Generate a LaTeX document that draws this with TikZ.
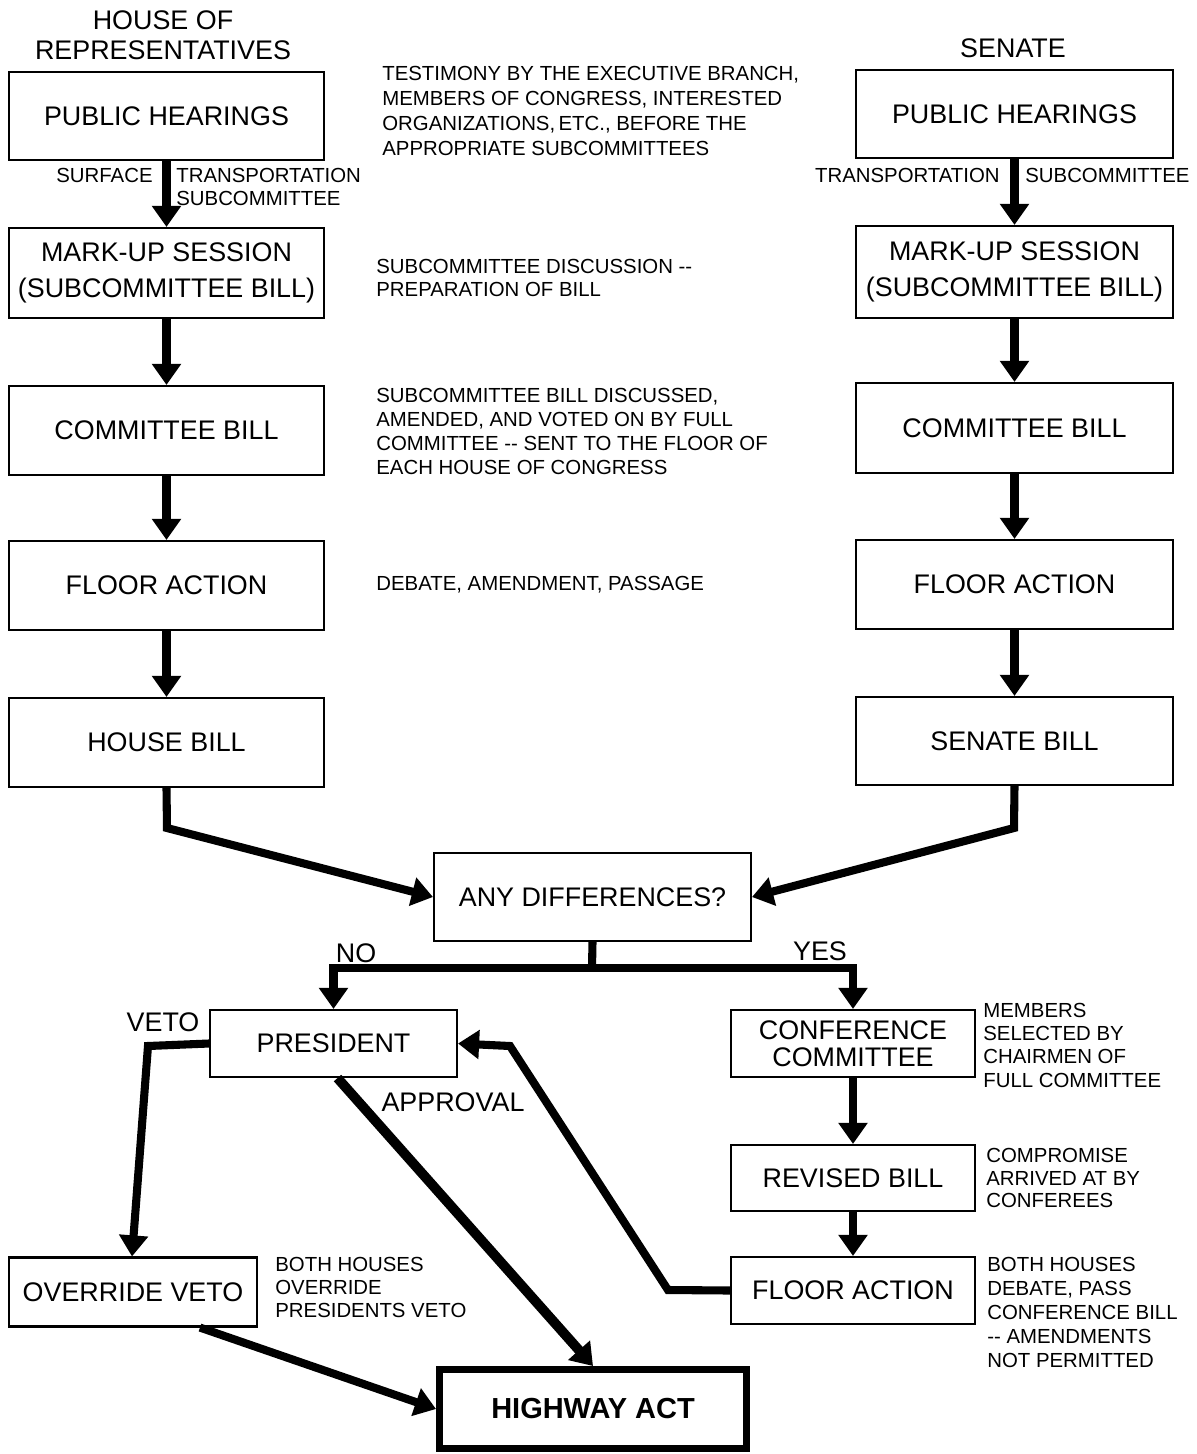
\documentclass[tikz,border=0pt]{standalone}
\usepackage{fontspec}
\setmainfont{Liberation Sans}
\usetikzlibrary{arrows.meta}
\begin{document}
\begin{tikzpicture}[x=0.02cm,y=-0.02cm,
  box/.style={draw, line width=1.2pt, inner sep=0pt, align=center, font=\fontsize{15.3}{20.4}\selectfont},
  lbox/.style={box, minimum width=6.3cm, minimum height=1.78cm},
  rbox/.style={box, minimum width=6.34cm, minimum height=1.78cm},
  note/.style={anchor=north west, inner sep=0pt, align=left, font=\fontsize{11.6}{13.5}\selectfont},
  lbl/.style={inner sep=0pt, font=\fontsize{11.6}{13}\selectfont},
  big/.style={inner sep=0pt, align=center, font=\fontsize{15.3}{17}\selectfont},
  flow/.style={line width=4.6pt, line join=miter, -{Triangle[width=16pt,length=12pt]}},
  link/.style={line width=4.6pt},
]
\useasboundingbox (0,0) rectangle (1197,1454);

% headers
\node[big] (hdrH) at (163,35) {HOUSE OF\\REPRESENTATIVES};
\node[big] (hdrS) at (1013,48) {SENATE};

% left column
\node[lbox, minimum height=1.76cm] (pubH) at (166.5,116) {PUBLIC HEARINGS};
\node[lbox, minimum height=1.8cm] (markH) at (166.5,273) {MARK-UP SESSION\\(SUBCOMMITTEE BILL)};
\node[lbox] (comH) at (166.5,430.5) {COMMITTEE BILL};
\node[lbox] (floorH) at (166.5,585.5) {FLOOR ACTION};
\node[lbox] (house) at (166.5,742.5) {HOUSE BILL};

% right column
\node[rbox, minimum height=1.76cm] (pubS) at (1014.5,114) {PUBLIC HEARINGS};
\node[rbox, minimum height=1.84cm] (markS) at (1014.5,272) {MARK-UP SESSION\\(SUBCOMMITTEE BILL)};
\node[rbox, minimum height=1.8cm] (comS) at (1014.5,428) {COMMITTEE BILL};
\node[rbox] (floorS) at (1014.5,584.5) {FLOOR ACTION};
\node[rbox, minimum height=1.76cm] (senate) at (1014.5,741) {SENATE BILL};

% middle / bottom
\node[box, minimum width=6.34cm, minimum height=1.76cm] (anyd) at (592.5,897) {ANY DIFFERENCES?};
\node[box, minimum width=4.94cm, minimum height=1.34cm] (pres) at (333.5,1043.5) {PRESIDENT};
\node[box, minimum width=4.88cm, minimum height=1.34cm, font=\fontsize{15.3}{15.6}\selectfont] (conf) at (853,1043.5) {CONFERENCE\\COMMITTEE};
\node[box, minimum width=4.88cm, minimum height=1.32cm] (rev) at (853,1178) {REVISED BILL};
\node[box, minimum width=4.88cm, minimum height=1.34cm] (floorC) at (853,1290.5) {FLOOR ACTION};
\node[box, minimum width=4.96cm, minimum height=1.38cm] (ovr) at (133,1292) {OVERRIDE VETO};
\node[draw, line width=4pt, inner sep=0pt, minimum width=6.14cm, minimum height=1.58cm, font=\fontsize{16.5}{18}\selectfont\bfseries] (hw) at (593,1409) {HIGHWAY ACT};

% annotations
\node[note, font=\fontsize{11.6}{14.3}\selectfont] (n1) at (382,66) {TESTIMONY BY THE EXECUTIVE BRANCH,\\MEMBERS OF CONGRESS, INTERESTED\\ORGANIZATIONS,\,ETC., BEFORE THE\\APPROPRIATE SUBCOMMITTEES};
\node[note, font=\fontsize{11.6}{13}\selectfont] (n2) at (376,259) {SUBCOMMITTEE DISCUSSION -{}-\\PREPARATION OF BILL};
\node[note, font=\fontsize{11.6}{13.6}\selectfont] (n3) at (376,388) {SUBCOMMITTEE BILL DISCUSSED,\\AMENDED, AND VOTED ON BY FULL\\COMMITTEE -{}- SENT TO THE FLOOR OF\\EACH HOUSE OF CONGRESS};
\node[note] (n4) at (376,576) {DEBATE, AMENDMENT, PASSAGE};
\node[note, font=\fontsize{11.6}{13.2}\selectfont] (n5) at (983,1003) {MEMBERS\\SELECTED BY\\CHAIRMEN OF\\FULL COMMITTEE};
\node[note, font=\fontsize{11.6}{12.8}\selectfont] (n6) at (986,1148) {COMPROMISE\\ARRIVED AT BY\\CONFEREES};
\node[note, font=\fontsize{11.6}{13.6}\selectfont] (n7) at (987,1257) {BOTH HOUSES\\DEBATE, PASS\\CONFERENCE BILL\\-{}- AMENDMENTS\\NOT PERMITTED};
\node[note, font=\fontsize{11.6}{13}\selectfont] (n8) at (275,1257) {BOTH HOUSES\\OVERRIDE\\PRESIDENTS VETO};

% connector labels
\node[lbl, anchor=east] (lsurf) at (153,175) {SURFACE};
\node[note, font=\fontsize{11.6}{13}\selectfont] (ltrans) at (176,168) {TRANSPORTATION\\SUBCOMMITTEE};
\node[lbl, anchor=east] (rtrans) at (1000,175) {TRANSPORTATION};
\node[lbl, anchor=west] (rsub) at (1025,175) {SUBCOMMITTEE};
\node[big] (lno) at (356,953) {NO};
\node[big] (lyes) at (820,951) {YES};
\node[big] (lveto) at (163,1022) {VETO};
\node[big] (lappr) at (453,1102) {APPROVAL};

% coordinates
\coordinate (hb) at (167,828);
\coordinate (sb) at (1014,828);
\coordinate (split) at (592,968);
\coordinate (vc) at (148,1046);
\coordinate (c1) at (668,1290);
\coordinate (c2) at (510,1046);

% connectors
\draw[flow] (pubH.south) -- (markH.north);
\draw[flow] (markH.south) -- (comH.north);
\draw[flow] (comH.south) -- (floorH.north);
\draw[flow] (floorH.south) -- (house.north);
\draw[flow] (pubS.south) -- (markS.north);
\draw[flow] (markS.south) -- (comS.north);
\draw[flow] (comS.south) -- (floorS.north);
\draw[flow] (floorS.south) -- (senate.north);
\draw[flow] (house.south) -- (hb) -- (anyd.west);
\draw[flow] (senate.south) -- (sb) -- (anyd.east);
\draw[link] (anyd.south) -- (split);
\draw[flow] (split) -| (pres.north);
\draw[flow] (split) -| (conf.north);
\draw[flow] (conf.south) -- (rev.north);
\draw[flow] (rev.south) -- (floorC.north);
\draw[flow] (floorC.west) -- (c1) -- (c2) -- (pres.east);
\draw[flow] (pres.west) -- (vc) -- ([xshift=-0.02cm]ovr.north);
\draw[flow, line width=5.6pt] ([xshift=0.08cm]pres.south) -- (hw.north);
\draw[flow] ([xshift=1.34cm]ovr.south) -- (hw.west);
\end{tikzpicture}
\end{document}
